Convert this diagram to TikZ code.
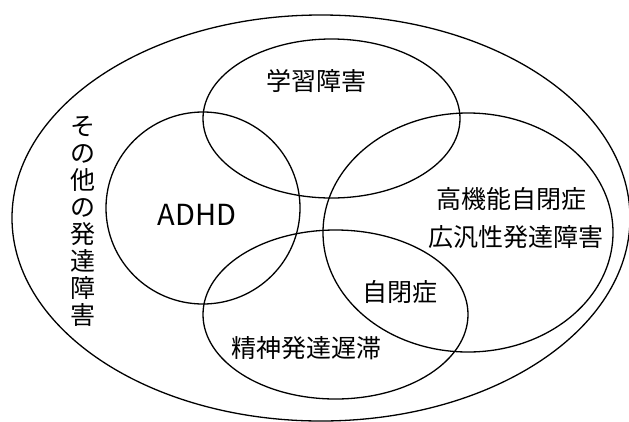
\documentclass[tikz,border=0pt]{standalone}
\usepackage{fontspec}
\setmainfont{Noto Sans CJK JP}
\begin{document}
\begin{tikzpicture}[x=1pt,y=-1pt,
  ring/.style={draw=black,line width=1.3pt},
  lbl/.style={font=\fontsize{25}{27}\selectfont,inner sep=0pt},
  latin/.style={font=\fontsize{29}{30}\selectfont,inner sep=0pt}]
\useasboundingbox (0,0) rectangle (629,421);
\draw[ring] (321,218) ellipse [x radius=309, y radius=203];
\draw[ring] (331.5,118.5) ellipse [x radius=128.5, y radius=79.5];
\draw[ring] (203,208) ellipse [x radius=97, y radius=96];
\draw[ring] (468,232.5) ellipse [x radius=145, y radius=119.5];
\draw[ring] (335.5,314.5) ellipse [x radius=132.5, y radius=84.5];
\node[lbl] (ld) at (316,81) {学習障害};
\node[latin] (adhd) at (197,215) {ADHD};
\node[lbl] (hfa) at (511,199) {高機能自閉症};
\node[lbl] (pdd) at (516,237) {広汎性発達障害};
\node[lbl] (aut) at (399.5,291.5) {自閉症};
\node[lbl] (mr) at (306,348) {精神発達遅滞};
\node[lbl,align=center] (other) at (82.5,221.5) {そ\\の\\他\\の\\発\\達\\障\\害};
\end{tikzpicture}
\end{document}
